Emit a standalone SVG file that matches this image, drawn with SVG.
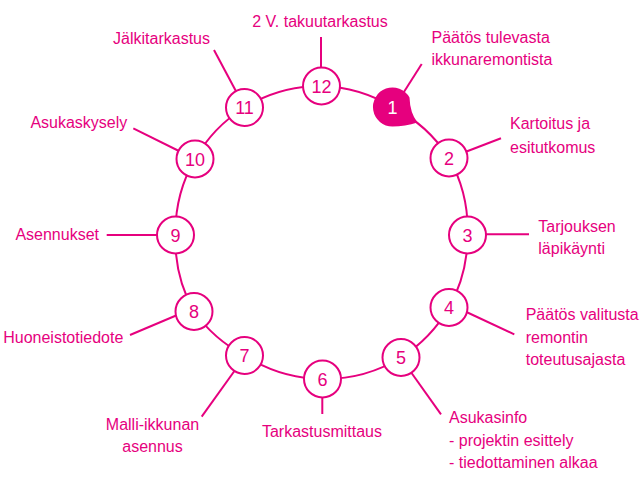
<svg xmlns="http://www.w3.org/2000/svg" width="644" height="480" viewBox="0 0 644 480">
<style>
.ln{fill:none;stroke:#e6007e;stroke-width:2}
.nd{fill:#ffffff;stroke:#e6007e;stroke-width:2}
.num{font-family:"Liberation Sans",Arial,sans-serif;font-size:18px;fill:#e6007e;text-anchor:middle}
.lbl{font-family:"Liberation Sans",Arial,sans-serif;font-size:16px;fill:#e6007e}
.mid{text-anchor:middle}
.end{text-anchor:end}
</style>
<rect width="644" height="480" fill="#ffffff"/>
<g id="connectors">
<path class="ln" d="M321.5,86 A146,146 0 0 1 392.5,107 A146,146 0 0 1 449,158 A146,146 0 0 1 467.5,235 A146,146 0 0 1 449,307.5 A146,146 0 0 1 401,357.5 A146,146 0 0 1 322.5,379 A146,146 0 0 1 244.5,355.5 A146,146 0 0 1 194,311.5 A146,146 0 0 1 175.5,235 A146,146 0 0 1 195,159 A146,146 0 0 1 244.5,107.5 A146,146 0 0 1 321.5,86"/>
<line class="ln" x1="321" y1="37" x2="321" y2="70"/>
<line class="ln" x1="421.7" y1="64" x2="402" y2="95"/>
<line class="ln" x1="501" y1="138.3" x2="460" y2="154"/>
<line class="ln" x1="529" y1="234.3" x2="480" y2="234.3"/>
<line class="ln" x1="514.3" y1="334.3" x2="460" y2="309"/>
<line class="ln" x1="441" y1="414.3" x2="408" y2="368"/>
<line class="ln" x1="322.3" y1="414" x2="322.3" y2="390"/>
<line class="ln" x1="201.7" y1="416.7" x2="238" y2="366"/>
<line class="ln" x1="130" y1="335" x2="182" y2="313"/>
<line class="ln" x1="106.7" y1="235" x2="165" y2="235"/>
<line class="ln" x1="133.3" y1="128.3" x2="185" y2="154"/>
<line class="ln" x1="214" y1="50" x2="238" y2="95"/>
</g>
<g id="node1">
<path fill="#e6007e" d="M392.5,126.5 Q405,126.5 417.5,122.5 Q410,113 409.5,97.5 A19.5,19.5 0 1 0 392.5,126.5 Z"/>
<text class="num" x="392.5" y="113.5" style="fill:#ffffff">1</text>
<text class="lbl" x="431.5" y="42.7">Päätös tulevasta</text>
<text class="lbl" x="431.5" y="65">ikkunaremontista</text>
</g>
<g id="node2">
<circle class="nd" cx="449" cy="158" r="18.5"/>
<text class="num" x="449" y="164.5">2</text>
<text class="lbl" x="510" y="129.3">Kartoitus ja</text>
<text class="lbl" x="510" y="153.3">esitutkomus</text>
</g>
<g id="node3">
<circle class="nd" cx="467.5" cy="235" r="18.5"/>
<text class="num" x="467.5" y="241.5">3</text>
<text class="lbl" x="538.3" y="231.7">Tarjouksen</text>
<text class="lbl" x="538.3" y="254">läpikäynti</text>
</g>
<g id="node4">
<circle class="nd" cx="449" cy="307.5" r="18.5"/>
<text class="num" x="449" y="314">4</text>
<text class="lbl" x="525.7" y="320">Päätös valitusta</text>
<text class="lbl" x="525.7" y="343.3">remontin</text>
<text class="lbl" x="525.7" y="365">toteutusajasta</text>
</g>
<g id="node5">
<circle class="nd" cx="401" cy="357.5" r="18.5"/>
<text class="num" x="401" y="364">5</text>
<text class="lbl" x="449" y="422.7">Asukasinfo</text>
<text class="lbl" x="449" y="446">- projektin esittely</text>
<text class="lbl" x="449" y="468.3">- tiedottaminen alkaa</text>
</g>
<g id="node6">
<circle class="nd" cx="322.5" cy="379" r="18.5"/>
<text class="num" x="322.5" y="385.5">6</text>
<text class="lbl mid" x="322" y="436.7">Tarkastusmittaus</text>
</g>
<g id="node7">
<circle class="nd" cx="244.5" cy="355.5" r="18.5"/>
<text class="num" x="244.5" y="362">7</text>
<text class="lbl mid" x="152.5" y="430">Malli-ikkunan</text>
<text class="lbl mid" x="152.5" y="451.7">asennus</text>
</g>
<g id="node8">
<circle class="nd" cx="194" cy="311.5" r="18.5"/>
<text class="num" x="194" y="318">8</text>
<text class="lbl end" x="123.3" y="342.7">Huoneistotiedote</text>
</g>
<g id="node9">
<circle class="nd" cx="175.5" cy="235" r="18.5"/>
<text class="num" x="175.5" y="241.5">9</text>
<text class="lbl end" x="99" y="240">Asennukset</text>
</g>
<g id="node10">
<circle class="nd" cx="195" cy="159" r="18.5"/>
<text class="num" x="195" y="165.5">10</text>
<text class="lbl end" x="127.3" y="128.3">Asukaskysely</text>
</g>
<g id="node11">
<circle class="nd" cx="244.5" cy="107.5" r="18.5"/>
<text class="num" x="244.5" y="114">11</text>
<text class="lbl end" x="210" y="44">Jälkitarkastus</text>
</g>
<g id="node12">
<circle class="nd" cx="321.5" cy="86" r="18.5"/>
<text class="num" x="321.5" y="92.5">12</text>
<text class="lbl mid" x="320" y="26.5">2 V. takuutarkastus</text>
</g>
</svg>
